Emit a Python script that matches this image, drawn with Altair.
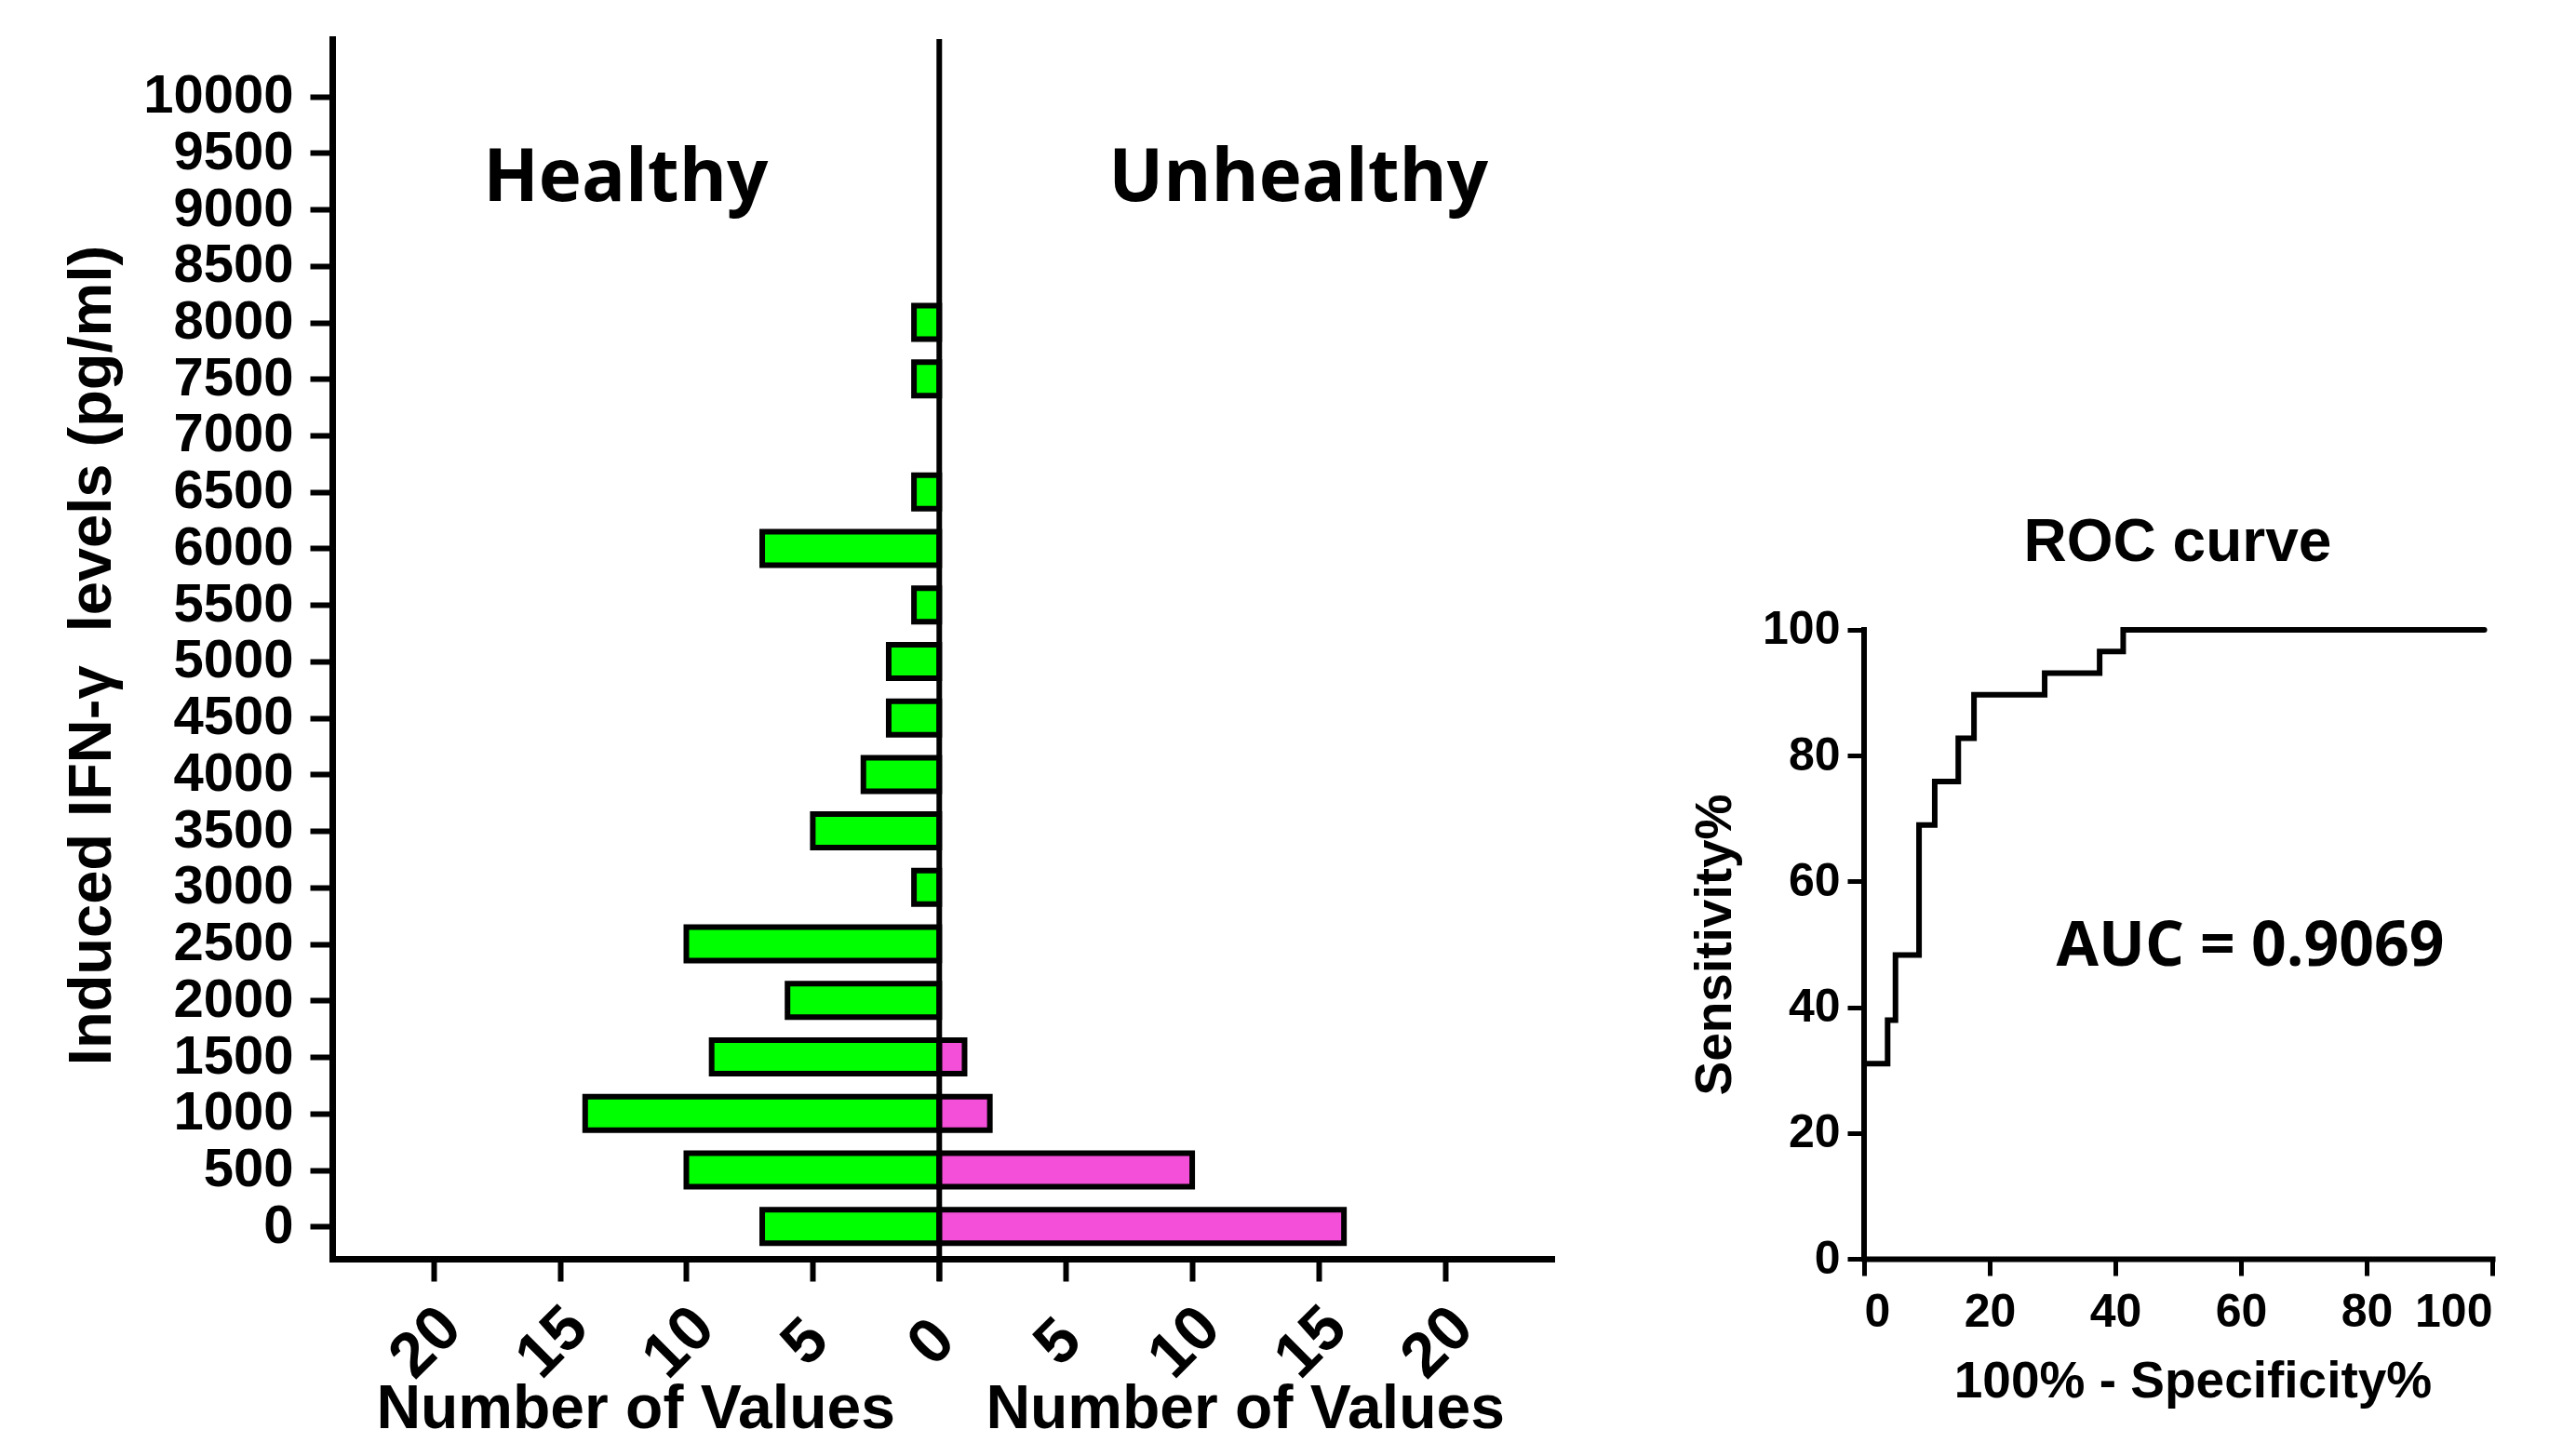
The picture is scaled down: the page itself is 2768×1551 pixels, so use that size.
import altair as alt
import pandas as pd

# ---- data ----
levels = [0, 500, 1000, 1500, 2000, 2500, 3000, 3500, 4000, 4500, 5000,
          5500, 6000, 6500, 7000, 7500, 8000, 8500, 9000, 9500, 10000]
healthy = [7, 10, 14, 9, 6, 10, 1, 5, 3, 2, 2, 1, 7, 1, 0, 1, 1, 0, 0, 0, 0]
unhealthy = [16, 10, 2, 1, 0, 0, 0, 0, 0, 0, 0, 0, 0, 0, 0, 0, 0, 0, 0, 0, 0]

roc_fpr = [0, 0, 3.75, 5, 8.75, 11.25, 15, 17.5, 28.75, 37.5, 41.25, 98.75]
roc_sens = [0, 31.03, 37.93, 48.28, 68.97, 75.86, 82.76, 89.66, 93.10, 96.55, 100, 100]

count_ticks = [-20, -15, -10, -5, 0, 5, 10, 15, 20]
roc_ticks = [0, 20, 40, 60, 80, 100]

bars_df = pd.DataFrame({
    "level": levels + levels,
    "count": [-v for v in healthy] + unhealthy,
    "group": ["Healthy"] * len(levels) + ["Unhealthy"] * len(levels),
})
roc_df = pd.DataFrame({"fpr": roc_fpr, "sens": roc_sens, "idx": list(range(len(roc_fpr)))})

FONT = "Liberation Sans"
FONT2 = "Open Sans"
GREEN = "#00FF00"
PINK = "#F44FD8"

H = 1311
W = 1310

yscale = alt.Scale(domain=[-245, 10466], nice=False, zero=False)
xscale = alt.Scale(domain=[-24, 24.2], nice=False, zero=False)

bars = alt.Chart(bars_df).transform_filter("datum.count != 0").mark_bar(
    orient="horizontal", size=36, stroke="black", strokeWidth=6
).encode(
    x=alt.X("count:Q", scale=xscale, stack=None,
            axis=alt.Axis(values=count_ticks, labelExpr="abs(datum.value)", title=None,
                          labelFont=FONT, labelFontWeight="bold", labelFontSize=68,
                          labelColor="black", labelAngle=-45, labelAlign="center",
                          labelBaseline="middle", labelPadding=66, labelOffset=-8,
                          labelOverlap=False,
                          tickSize=24, tickWidth=6, tickColor="black",
                          domainWidth=7, domainColor="black", domainCap="square",
                          grid=False)),
    y=alt.Y("level:Q", scale=yscale,
            axis=alt.Axis(values=levels, format="d",
                          title="Induced IFN-γ\u00a0\u00a0levels (pg/ml)",
                          labelFont=FONT, labelFontWeight="bold", labelFontSize=58,
                          labelColor="black", labelPadding=18, labelOverlap=False,
                          tickSize=24, tickWidth=6, tickColor="black",
                          domainWidth=7, domainColor="black", domainCap="square",
                          grid=False,
                          titleFont=FONT, titleFontWeight="bold", titleFontSize=65,
                          titleColor="black", titleAngle=-90,
                          titleX=-239, titleY=662, titleBaseline="alphabetic",
                          titleAlign="center")),
    color=alt.Color("group:N", scale=alt.Scale(domain=["Healthy", "Unhealthy"],
                                               range=[GREEN, PINK]), legend=None),
)

zero_rule = alt.Chart(pd.DataFrame({"x": [0]})).mark_rule(
    color="black", strokeWidth=6
).encode(x="x:Q", y=alt.value(0), y2=alt.value(H + 24))

group_labels = alt.Chart(pd.DataFrame({
    "t": ["Healthy", "Unhealthy"], "x": [-12.4, 14.2]})).mark_text(
    font=FONT2, fontWeight="bold", fontSize=78, color="black",
    align="center", baseline="alphabetic"
).encode(text="t:N", x="x:Q", y=alt.value(174))

axis_titles = alt.Chart(pd.DataFrame({
    "t": ["Number of Values", "Number of Values"], "x": [-12, 12.1]})).mark_text(
    font=FONT, fontWeight="bold", fontSize=66, color="black",
    align="center", baseline="alphabetic"
).encode(text="t:N", x="x:Q", y=alt.value(H + 182))

left = alt.layer(bars, zero_rule, group_labels, axis_titles).properties(width=W, height=H)

# ---- ROC ----
RW = 675
roc_ymax = 193.9

roc_line = alt.Chart(roc_df).mark_line(
    interpolate="step-after", color="black", strokeWidth=6, strokeCap="round"
).encode(
    x=alt.X("fpr:Q", scale=alt.Scale(domain=[0, 100], nice=False, zero=False),
            axis=alt.Axis(values=roc_ticks, format="d", title="100% - Specificity%",
                          labelFont=FONT, labelFontWeight="bold", labelFontSize=50,
                          labelColor="black", labelAngle=0, labelPadding=14,
                          tickSize=18, tickWidth=5, tickColor="black",
                          domainWidth=6, domainColor="black", domainCap="square",
                          grid=False,
                          titleFont=FONT, titleFontWeight="bold", titleFontSize=55,
                          titleColor="black", titleX=353, titleY=148,
                          titleBaseline="alphabetic", titleAlign="center")),
    y=alt.Y("sens:Q", scale=alt.Scale(domain=[0, roc_ymax], nice=False, zero=False),
            axis=alt.Axis(values=roc_ticks, format="d", title="Sensitivity%",
                          domain=False,
                          labelFont=FONT, labelFontWeight="bold", labelFontSize=50,
                          labelColor="black", labelPadding=8,
                          tickSize=18, tickWidth=5, tickColor="black",
                          grid=False,
                          titleFont=FONT, titleFontWeight="bold", titleFontSize=55,
                          titleColor="black", titleAngle=-90,
                          titleX=-144, titleY=973, titleBaseline="alphabetic",
                          titleAlign="center")),
    order="idx:Q",
)

roc_axis = alt.Chart(pd.DataFrame({"x": [0], "y": [0], "y2": [100]})).mark_rule(
    color="black", strokeWidth=6, strokeCap="square"
).encode(x="x:Q", y="y:Q", y2="y2:Q")

roc_title = alt.Chart(pd.DataFrame({"t": ["ROC curve"]})).mark_text(
    font=FONT, fontWeight="bold", fontSize=64, color="black",
    align="center", baseline="alphabetic"
).encode(text="t:N", x=alt.value(337), y=alt.value(561))

auc_text = alt.Chart(pd.DataFrame({"t": ["AUC = 0.9069"]})).mark_text(
    font=FONT2, fontWeight="bold", fontSize=66, color="black",
    align="center", baseline="alphabetic"
).encode(text="t:N", x=alt.value(415), y=alt.value(996))

roc = alt.layer(roc_axis, roc_line, roc_title, auc_text).properties(width=RW, height=H)

chart = alt.hconcat(left, roc, spacing=336, bounds="flush").properties(
    padding={"left": 58, "top": 31, "right": 5, "bottom": 0},
    background="white",
).configure_view(strokeWidth=0, stroke="transparent")

chart.save("out.html", embed_options={"renderer": "svg", "actions": False})
